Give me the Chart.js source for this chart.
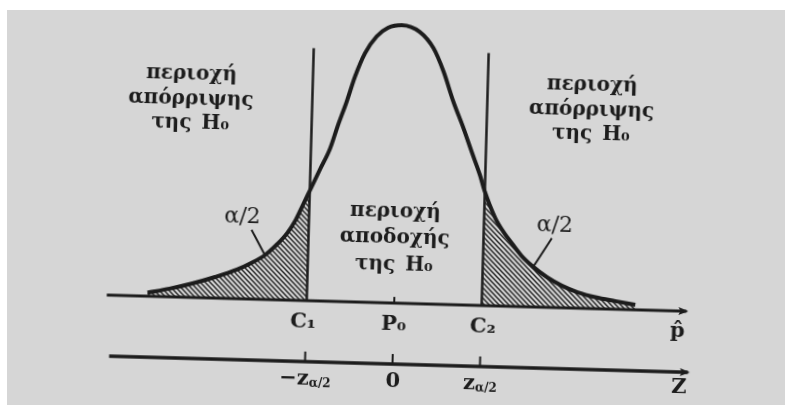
<!DOCTYPE html>
<html>
<head>
<meta charset="utf-8">
<script src="https://cdn.jsdelivr.net/npm/chart.js@4/dist/chart.umd.min.js"></script>
<style>
  html, body { margin: 0; padding: 0; background: #ffffff; overflow: hidden; }
  #paper { position: absolute; left: 7px; top: 10px; width: 778px; height: 395px; background: #d6d6d6; }
  #wrap { position: absolute; left: 0; top: 0; width: 785px; height: 405px; transform: rotate(1.6deg); transform-origin: 392.5px 202.5px; }
</style>
</head>
<body>
<div id="paper"></div>
<div id="wrap"><canvas id="c" width="785" height="405"></canvas></div>
<script>
// ---- data ----
// standardized position (z) and relative height of the drawn density curve
const curveZ = [-5.53, -5.04, -4.53, -4.03, -3.54, -3.25, -2.92, -2.69, -2.44, -2.26, -2.10, -1.96, -1.75, -1.53, -1.37, -1.19,
                -1.02, -0.81, -0.56, -0.31, 0.00, 0.40, 0.72, 0.96, 1.20, 1.44, 1.64, 1.84, 1.96, 2.21, 2.42, 2.60, 2.82,
                 3.07, 3.41, 3.74, 4.10, 4.50, 4.95, 5.40];
const curveY = [0.0125, 0.029, 0.050, 0.075, 0.104, 0.127, 0.159, 0.193, 0.239, 0.286, 0.343, 0.393, 0.468, 0.546, 0.629, 0.714,
                0.804, 0.889, 0.950, 0.982, 0.993, 0.971, 0.914, 0.832, 0.725, 0.632, 0.548, 0.466, 0.407, 0.314, 0.261, 0.225, 0.182,
                0.146, 0.107, 0.079, 0.057, 0.041, 0.029, 0.018];
// critical values C1 / C2 (= -z_{a/2}, z_{a/2}) and centre P0 (= 0)
const critZ = [-1.96, 1.96];
const centreZ = 0;
const critLineTop = 0.902;
// tick labels
const pAxisLabels = [['C', '₁'], ['P', '₀'], ['C', '₂']];
const zAxisLabels = [['−z', 'α/2'], ['0', ''], ['z', 'α/2']];
const pAxisName = 'p̂';
const zAxisName = 'Z';
// region texts
const rejectText = ['περιοχή', 'απόρριψης', 'της\u2002H₀'];
const acceptText = ['περιοχή', 'αποδοχής', 'της\u2002H₀'];
const tailText = 'α/2';

// ---- derived ----
const curve = curveZ.map((z, i) => ({ x: z, y: curveY[i] }));
const leftTail = curve.filter(p => p.x <= critZ[0]);
const rightTail = curve.filter(p => p.x >= critZ[1]);
const pAxisExtent = [-6.44, 6.55];
const zAxisExtent = [-6.35, 6.62];
const zAxisLevel = -0.218;
const tickZ = [critZ[0], centreZ, critZ[1]];

const INK = '#1c1c1c';

function hatch() {
  const s = 5;
  const c = document.createElement('canvas');
  c.width = s; c.height = s;
  const g = c.getContext('2d');
  g.strokeStyle = '#2a2a2a';
  g.lineWidth = 1.5;
  g.beginPath();
  g.moveTo(-1, -1); g.lineTo(s + 1, s + 1);
  g.moveTo(-2, s - 2); g.lineTo(2, s + 2);
  g.moveTo(s - 2, -2); g.lineTo(s + 2, 2);
  g.stroke();
  return document.getElementById('c').getContext('2d').createPattern(c, 'repeat');
}
const pattern = hatch();

const seg = (a, b) => [a, b];
const datasets = [
  { label: 'curve', data: curve, borderColor: INK, borderWidth: 4, pointRadius: 0, cubicInterpolationMode: 'monotone', fill: false, order: 0 },
  { label: 'leftTail', data: leftTail, borderWidth: 0, borderColor: 'rgba(0,0,0,0)', backgroundColor: pattern, pointRadius: 0, cubicInterpolationMode: 'monotone', fill: 'origin', order: 5 },
  { label: 'rightTail', data: rightTail, borderWidth: 0, borderColor: 'rgba(0,0,0,0)', backgroundColor: pattern, pointRadius: 0, cubicInterpolationMode: 'monotone', fill: 'origin', order: 5 },
  { label: 'pAxis', data: seg({ x: pAxisExtent[0], y: 0 }, { x: pAxisExtent[1], y: 0 }), borderColor: INK, borderWidth: 3, pointRadius: 0, order: 2 },
  { label: 'zAxis', data: seg({ x: zAxisExtent[0], y: zAxisLevel }, { x: zAxisExtent[1], y: zAxisLevel }), borderColor: INK, borderWidth: 3.5, pointRadius: 0, order: 2 },
  { label: 'C1', data: seg({ x: critZ[0], y: 0 }, { x: critZ[0], y: critLineTop }), borderColor: INK, borderWidth: 2.5, pointRadius: 0, order: 1 },
  { label: 'C2', data: seg({ x: critZ[1], y: 0 }, { x: critZ[1], y: critLineTop }), borderColor: INK, borderWidth: 2.5, pointRadius: 0, order: 1 },
  { label: 'P0tick', data: seg({ x: centreZ, y: 0 }, { x: centreZ, y: 0.022 }), borderColor: INK, borderWidth: 2, pointRadius: 0, order: 1 }
];
tickZ.forEach((z, i) => datasets.push({ label: 'ztick' + i, data: seg({ x: z, y: zAxisLevel }, { x: z, y: zAxisLevel + 0.036 }), borderColor: INK, borderWidth: 2, pointRadius: 0, order: 1 }));
// leader lines for α/2
datasets.push({ label: 'leaderL', data: seg({ x: -3.24, y: 0.247 }, { x: -2.92, y: 0.157 }), borderColor: INK, borderWidth: 2, pointRadius: 0, order: 1 });
datasets.push({ label: 'leaderR', data: seg({ x: 3.49, y: 0.247 }, { x: 3.09, y: 0.143 }), borderColor: INK, borderWidth: 2, pointRadius: 0, order: 1 });

function drawParts(ctx, parts, cx, cy) {
  let w = 0;
  parts.forEach(p => { ctx.font = p.font; w += ctx.measureText(p.t).width; });
  let x0 = cx - w / 2;
  parts.forEach(p => {
    ctx.font = p.font;
    ctx.fillText(p.t, x0, cy + (p.dy || 0));
    x0 += ctx.measureText(p.t).width;
  });
}

const annot = {
  id: 'annot',
  afterDatasetsDraw(chart) {
    const { ctx, scales: { x, y } } = chart;
    const X = v => x.getPixelForValue(v), Y = v => y.getPixelForValue(v);
    ctx.save();
    ctx.fillStyle = INK;
    ctx.strokeStyle = INK;
    ctx.textAlign = 'left';
    ctx.textBaseline = 'middle';
    const big = 'bold 20px "DejaVu Serif"';
    const lab = 'bold 21px "DejaVu Serif"';
    const sub = 'bold 12px "DejaVu Serif"';
    // region labels
    const rows = [0.796, 0.708, 0.623];
    rejectText.forEach((t, i) => {
      drawParts(ctx, [{ t, font: big }], X(-4.68), Y(rows[i]));
      drawParts(ctx, [{ t, font: big }], X(4.30), Y(rows[i]));
    });
    const crow = [0.325, 0.232, 0.136];
    acceptText.forEach((t, i) => drawParts(ctx, [{ t, font: big }], X(-0.03), Y(crow[i])));
    // α/2
    drawParts(ctx, [{ t: tailText, font: '22px "DejaVu Serif"' }], X(-3.45), Y(0.293));
    drawParts(ctx, [{ t: tailText, font: '22px "DejaVu Serif"' }], X(3.55), Y(0.293));
    // p axis labels
    const pOff = [-0.07, 0, 0.04];
    pAxisLabels.forEach((l, i) => drawParts(ctx, [{ t: l[0], font: lab }, { t: l[1], font: lab }], X(tickZ[i] + pOff[i]), Y(-0.077)));
    drawParts(ctx, [{ t: pAxisName, font: lab }], X(6.36), Y(-0.073));
    // z axis labels
    const zOff = [0.01, 0.02, 0.01];
    zAxisLabels.forEach((l, i) => drawParts(ctx, [{ t: l[0], font: lab }, { t: l[1], font: sub, dy: 4 }], X(tickZ[i] + zOff[i]), Y(-0.282)));
    drawParts(ctx, [{ t: zAxisName, font: lab }], X(6.43), Y(-0.273));
    // arrowheads
    const arrow = (xv, yv) => {
      const px = X(xv), py = Y(yv);
      ctx.beginPath();
      ctx.moveTo(px + 2, py);
      ctx.lineTo(px - 8, py - 4);
      ctx.lineTo(px - 6, py);
      ctx.lineTo(px - 8, py + 4);
      ctx.closePath();
      ctx.fill();
    };
    arrow(pAxisExtent[1], 0);
    arrow(zAxisExtent[1], zAxisLevel);
    ctx.restore();
  }
};

new Chart(document.getElementById('c'), {
  type: 'line',
  data: { datasets },
  options: {
    responsive: false,
    devicePixelRatio: 1,
    animation: false,
    events: [],
    layout: { padding: 0 },
    plugins: { legend: { display: false }, tooltip: { enabled: false } },
    scales: {
      x: { type: 'linear', display: false, min: -8.893, max: 8.692 },
      y: { type: 'linear', display: false, min: -0.3643, max: 1.0821 }
    }
  },
  plugins: [annot]
});
</script>
</body>
</html>
